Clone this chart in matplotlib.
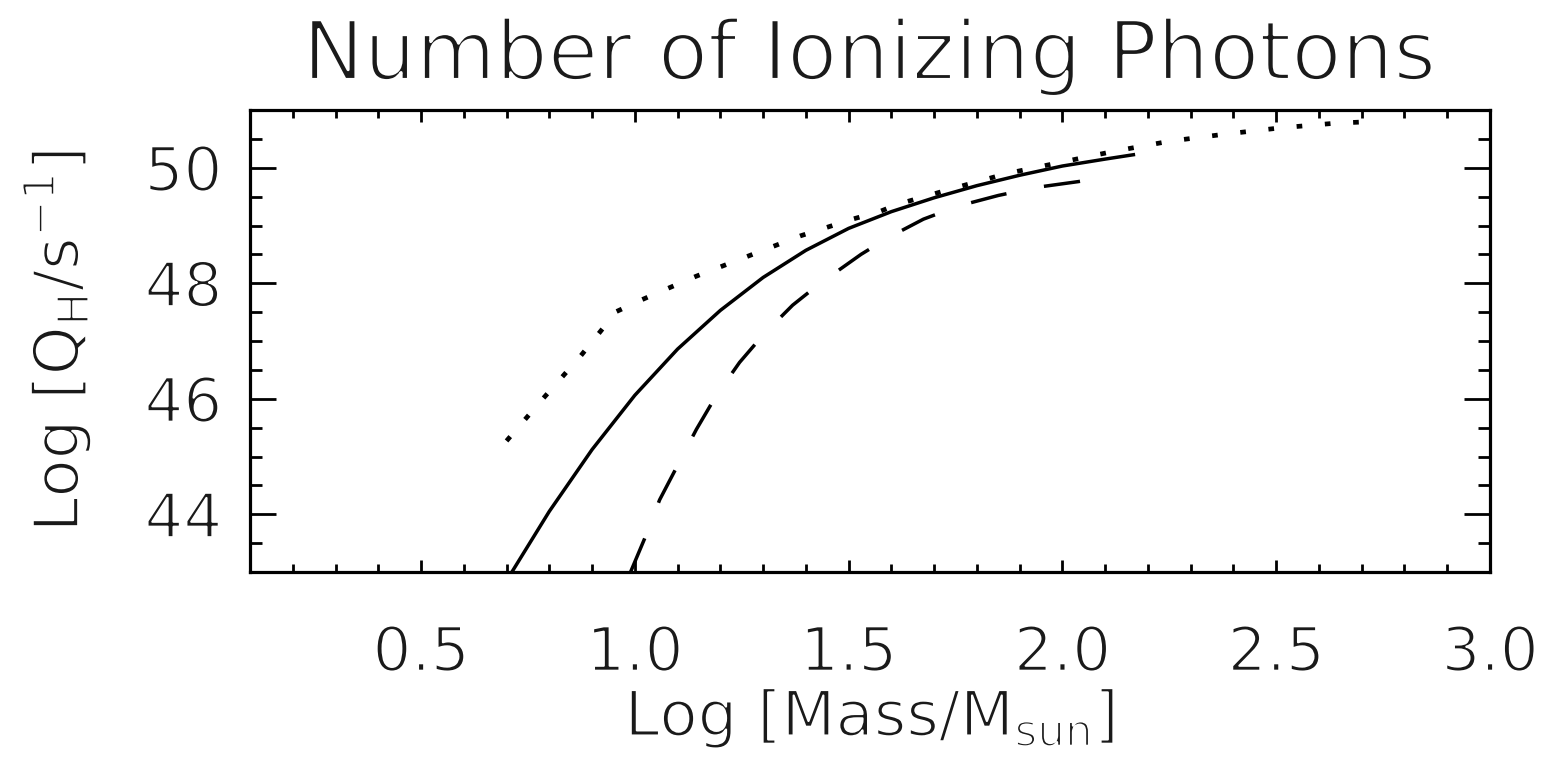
"""Number of ionizing photons vs stellar mass (log-log), IDL-style recreation."""
import matplotlib
matplotlib.use("Agg")
import matplotlib.pyplot as plt
from matplotlib import patheffects as pe
from matplotlib.ticker import MultipleLocator, FixedLocator, FixedFormatter

plt.rcParams["font.family"] = ["DejaVu Sans"]
plt.rcParams["mathtext.default"] = "regular"

# solid curve
solid_logm = [0.71, 0.80, 0.90, 1.00, 1.10, 1.20, 1.30, 1.40, 1.50,
              1.60, 1.70, 1.80, 1.90, 2.00, 2.10, 2.17]
solid_logq = [42.97, 44.05, 45.12, 46.06, 46.86, 47.53, 48.10, 48.57, 48.95,
              49.24, 49.48, 49.69, 49.87, 50.03, 50.15, 50.23]

# dotted curve
dotted_logm = [0.70, 0.785, 0.871, 0.957, 1.015, 1.077, 1.143, 1.265, 1.387,
               1.509, 1.572, 1.616, 1.743, 1.870, 2.00, 2.124, 2.251, 2.378,
               2.509, 2.636, 2.695]
dotted_logq = [45.27, 46.0, 46.72, 47.51, 47.71, 47.91, 48.12, 48.47, 48.82,
               49.11, 49.24, 49.37, 49.64, 49.90, 50.10, 50.29, 50.46, 50.58,
               50.69, 50.77, 50.79]

# dashed curve
dashed_logm = [0.99, 1.023, 1.058, 1.101, 1.144, 1.190, 1.245, 1.303, 1.369,
               1.43, 1.529, 1.595, 1.675, 1.758, 1.850, 1.939, 2.037, 2.085]
dashed_logq = [43.0, 43.58, 44.25, 44.86, 45.47, 46.05, 46.63, 47.13, 47.62,
               47.98, 48.50, 48.80, 49.11, 49.34, 49.52, 49.66, 49.76, 49.82]

x_ticks = [0.5, 1.0, 1.5, 2.0, 2.5, 3.0]
x_labels = ["0.5", "1.0", "1.5", "2.0", "2.5", "3.0"]
y_ticks = [44, 46, 48, 50]
y_labels = ["44", "46", "48", "50"]

# DejaVu is too heavy for the thin IDL vector font; erode it with a white outline
thin = [pe.Stroke(linewidth=1.6, foreground="white")]
thin_big = [pe.Stroke(linewidth=2.2, foreground="white")]
ink = "#1a1a1a"

W, H = 1543, 767
fig = plt.figure(figsize=(W / 100, H / 100), dpi=100)
ax = fig.add_axes([250 / W, 1 - 572 / H, 1240 / W, 462 / H])

ax.plot(solid_logm, solid_logq, color="black", lw=2.5, solid_capstyle="butt")
ax.plot(dashed_logm, dashed_logq, color="black", lw=2.5,
        linestyle=(0, (10.5, 11.0)), dash_capstyle="butt")
ax.plot(dotted_logm, dotted_logq, color="black", lw=3.4,
        linestyle=(0, (1.2, 4.8)), dash_capstyle="butt")

ax.set_xlim(0.1, 3.0)
ax.set_ylim(43, 51)

ax.xaxis.set_major_locator(FixedLocator(x_ticks))
ax.xaxis.set_major_formatter(FixedFormatter(x_labels))
ax.xaxis.set_minor_locator(MultipleLocator(0.1))
ax.yaxis.set_major_locator(FixedLocator(y_ticks))
ax.yaxis.set_major_formatter(FixedFormatter(y_labels))
ax.yaxis.set_minor_locator(MultipleLocator(0.5))

for s in ax.spines.values():
    s.set_linewidth(2.3)

ax.tick_params(axis="both", which="both", direction="in", top=True, right=True,
               width=2.0, color="black", labelcolor=ink)
ax.tick_params(axis="x", which="major", length=8.5, pad=38, labelsize=44)
ax.tick_params(axis="x", which="minor", length=5.5)
ax.tick_params(axis="y", which="major", length=19, pad=20, labelsize=44)
ax.tick_params(axis="y", which="minor", length=8.5)
for lab in ax.get_xticklabels() + ax.get_yticklabels():
    lab.set_path_effects(thin)

ax.set_title("Number of Ionizing Photons", fontsize=59, pad=22, color=ink,
             path_effects=thin_big)
ax.set_xlabel("Log [Mass/M$_{sun}$]", fontsize=45, labelpad=2, color=ink,
              path_effects=thin)
ax.set_ylabel("Log [Q$_{H}$/s$^{-1}$]", fontsize=45, labelpad=36, color=ink,
              path_effects=thin)

fig.savefig("out.png", dpi=100, facecolor="white")
